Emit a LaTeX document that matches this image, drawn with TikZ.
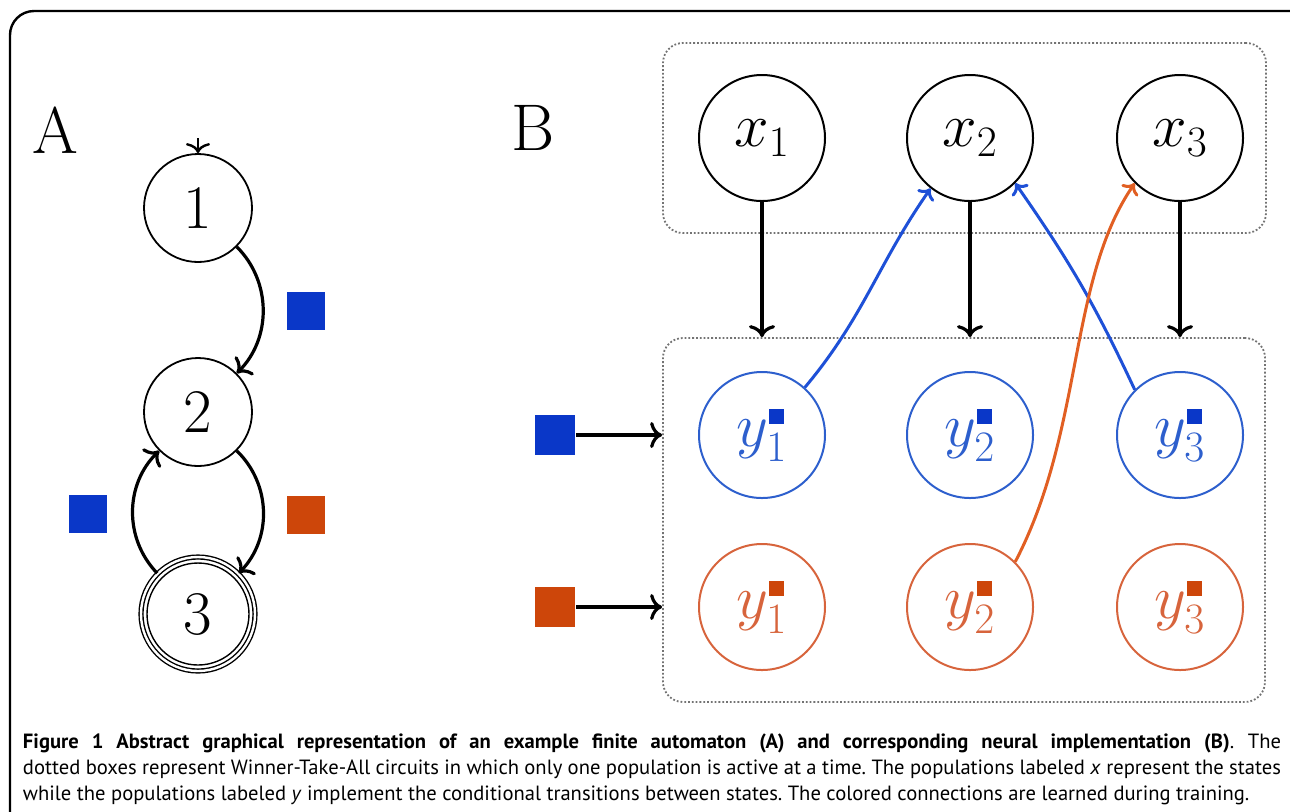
\RequirePackage{fix-cm}
\documentclass[tikz,border=0pt]{standalone}
\usepackage{amssymb}
\usepackage{fontspec}
\newfontfamily\capfont{PT Sans}
\usepackage{tikz}
\usetikzlibrary{arrows}
\usetikzlibrary{arrows.meta}
\definecolor{qblue}{RGB}{10,55,200}
\definecolor{qorange}{RGB}{205,70,10}
\definecolor{cblue}{RGB}{45,95,205}
\definecolor{corange}{RGB}{215,100,60}
\definecolor{lblue}{RGB}{30,80,215}
\definecolor{lorange}{RGB}{225,95,35}
\tikzstyle{stateA}=[circle,draw=black,line width=0.9pt,minimum size=54pt,inner sep=0pt,font=\fontsize{31}{36}\selectfont]
\tikzstyle{finalA}=[stateA,double,double distance=1.2pt,line width=0.7pt,minimum size=57pt]
\tikzstyle{pop}=[circle,draw=black,line width=1pt,minimum size=63pt,inner sep=0pt,font=\fontsize{31}{36}\selectfont]
\tikzstyle{popb}=[pop,draw=cblue,text=cblue]
\tikzstyle{popo}=[pop,draw=corange,text=corange]
\tikzstyle{sqb}=[rectangle,fill=qblue,minimum size=19pt,inner sep=0pt]
\tikzstyle{sqo}=[rectangle,fill=qorange,minimum size=19pt,inner sep=0pt]
\tikzstyle{wta}=[rectangle,draw=black!55,densely dotted,line width=0.9pt,rounded corners=10pt]
\tikzstyle{panel}=[inner sep=0pt,font=\fontsize{33}{40}\selectfont]
\tikzstyle{capt}=[anchor=base west,inner sep=0pt,text width=629pt,align=justify,font=\capfont\fontsize{10.3}{13.2}\selectfont]
\tikzstyle{arrow}=[-{To[length=6pt,width=13pt]},line width=1.6pt]
\tikzstyle{learnb}=[-{To[length=5pt,width=10pt]},line width=1.5pt,draw=lblue]
\tikzstyle{learno}=[-{To[length=5pt,width=10pt]},line width=1.5pt,draw=lorange]
\tikzset{every picture/.style={
    line width=1pt
  }
}
\newcommand{\ysq}[2]{$y_{#1}^{\textcolor{#2}{\rule{7.5pt}{7.5pt}}}$}

\begin{document}
\begin{tikzpicture}[x=0.5pt,y=-0.5pt]
      \useasboundingbox (0,0) rectangle (1290,811);
      \draw[line width=1.2pt,rounded corners=12pt] (10,11) rectangle (1320,850);
      \node[panel] at (55,130) (la) {A};
      \node[panel] at (533,128) (lb) {B};
      \node[stateA] at (198,208) (s1) {1};
      \node[stateA] at (198,412) (s2) {2};
      \node[finalA] at (198,614) (s3) {3};
      \draw[line width=0.7pt] (s3.center) circle (25.5pt);
      \coordinate (s0) at (198,138);
      \draw[-{To[length=5pt,width=12pt]},line width=1.2pt] (s0) -- (s1);
      \draw[arrow] (s1) to[bend left=45] (s2);
      \draw[arrow] (s2) to[bend left=45] (s3);
      \draw[arrow] (s3) to[bend left=45] (s2);
      \node[sqb] at (306,311) (e12) {};
      \node[sqo] at (306,515) (e23) {};
      \node[sqb] at (88,514) (e32) {};
      \node[wta,minimum width=301.5pt,minimum height=95pt] at (964.5,138) (wtax) {};
      \node[wta,minimum width=301pt,minimum height=182pt] at (964,520) (wtay) {};
      \node[pop] at (762,138) (x1) {$x_1$};
      \node[pop] at (970,138) (x2) {$x_2$};
      \node[pop] at (1180,138) (x3) {$x_3$};
      \node[popb] at (762,435) (y1b) {\ysq{1}{qblue}};
      \node[popb] at (970,435) (y2b) {\ysq{2}{qblue}};
      \node[popb] at (1180,435) (y3b) {\ysq{3}{qblue}};
      \node[popo] at (762,607) (y1o) {\ysq{1}{qorange}};
      \node[popo] at (970,607) (y2o) {\ysq{2}{qorange}};
      \node[popo] at (1180,607) (y3o) {\ysq{3}{qorange}};
      \node[sqb,minimum size=20pt] at (555,435) (inb) {};
      \node[sqo,minimum size=20pt] at (555,607) (ino) {};
      \draw[arrow] (x1) -- (x1 |- wtay.north);
      \draw[arrow] (x2) -- (x2 |- wtay.north);
      \draw[arrow] (x3) -- (x3 |- wtay.north);
      \draw[arrow] (inb) -- (inb -| wtay.west);
      \draw[arrow] (ino) -- (ino -| wtay.west);
      \draw[learnb] (y1b.48) to[out=50,in=-125] (x2.-128);
      \draw[learnb] (y3b.135) to[out=115,in=-55] (x2.-45);
      \draw[learno] (y2o.45) .. controls (1084,430) and (1068,280) .. (x3.-135);
      \node[capt] at (22,748) (cap) {\frenchspacing\textbf{Figure 1 Abstract graphical representation of an example finite automaton (A) and corresponding neural implementation (B)}. The\linebreak
      dotted boxes represent Winner-Take-All circuits in which only one population is active at a time. The populations labeled \textit{x} represent the states\linebreak
      while the populations labeled \textit{y} implement the conditional transitions between states. The colored connections are learned during training.};
    \end{tikzpicture}
\end{document}
